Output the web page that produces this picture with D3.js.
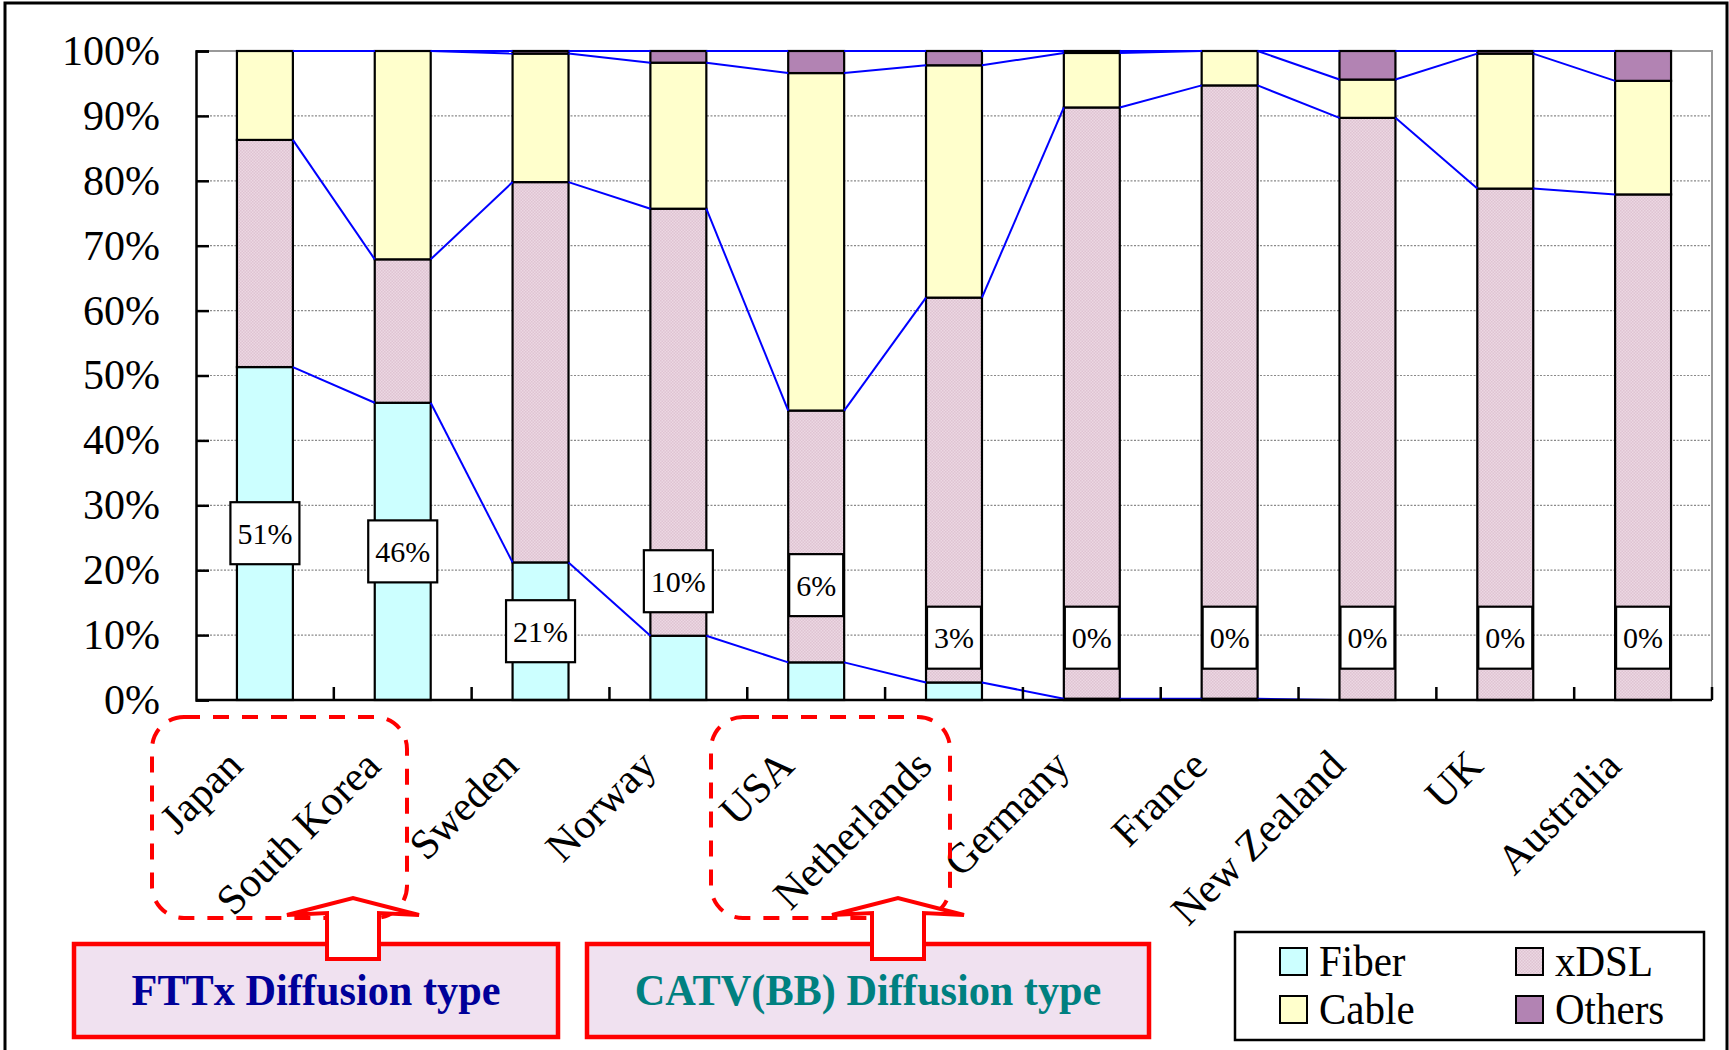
<!DOCTYPE html>
<html>
<head>
<meta charset="utf-8">
<script src="https://cdn.jsdelivr.net/npm/d3@7"></script>
<style>
  body { margin: 0; background: #fff; }
  svg { display: block; font-family: "Liberation Serif", "Times New Roman", serif; }
</style>
</head>
<body>
<svg id="chart" width="1729" height="1050"></svg>
<script>
// broadband share by access type, % of subscribers
var countries = ["Japan", "South Korea", "Sweden", "Norway", "USA", "Netherlands",
                 "Germany", "France", "New Zealand", "UK", "Australia"];
var fiber  = [51.3, 45.8, 21.2,  9.9,  5.8,  2.7,  0.2,  0.2,  0.0,  0.0,  0.0];
var xdsl   = [35.0, 22.1, 58.6, 65.8, 38.8, 59.3, 91.1, 94.5, 89.7, 78.8, 77.9];
var cable  = [13.7, 32.1, 19.8, 22.5, 52.0, 35.8,  8.4,  5.3,  5.9, 20.8, 17.5];
var others = [ 0.0,  0.0,  0.4,  1.8,  3.4,  2.2,  0.3,  0.0,  4.4,  0.4,  4.6];
// where the fiber % boxes sit (value units)
var labelAt = [25.7, 22.9, 10.6, 18.3, 17.7, 9.6, 9.6, 9.6, 9.6, 9.6, 9.6];
var yTicks = [0, 10, 20, 30, 40, 50, 60, 70, 80, 90, 100];
var seriesNames = ["Fiber", "xDSL", "Cable", "Others"];

var colors = {Fiber: "#ccffff", xDSL: "url(#dsl)", Cable: "#ffffcc", Others: "#b283b3"};

var plotL = 196, plotR = 1712, plotT = 51, plotB = 700;

var svg = d3.select("#chart");

// pink hatch for xDSL
var pat = svg.append("defs").append("pattern")
    .attr("id", "dsl").attr("width", 3).attr("height", 3)
    .attr("patternUnits", "userSpaceOnUse");
pat.append("rect").attr("width", 3).attr("height", 3).attr("fill", "#ecd8e3");
pat.append("rect").attr("width", 1.5).attr("height", 1.5).attr("fill", "#dfc3d2");
pat.append("rect").attr("x", 1.5).attr("y", 1.5).attr("width", 1.5).attr("height", 1.5).attr("fill", "#dfc3d2");

// outer frame
svg.append("rect").attr("x", 5).attr("y", 3).attr("width", 1722).attr("height", 1070)
    .attr("fill", "none").attr("stroke", "#000").attr("stroke-width", 3);

var x = d3.scaleBand().domain(countries).range([plotL, plotR])
    .paddingInner(0.594).paddingOuter(0.297);
var y = d3.scaleLinear().domain([0, 100]).range([plotB, plotT]);
var step = x.step();
var bw = x.bandwidth();

var rows = countries.map(function (c, i) {
  return {country: c, Fiber: fiber[i], xDSL: xdsl[i], Cable: cable[i], Others: others[i]};
});
var stacked = d3.stack().keys(seriesNames)(rows);

// grid
svg.append("g").selectAll("line")
    .data(yTicks.slice(1, -1))
    .enter().append("line")
    .attr("x1", plotL).attr("x2", plotR)
    .attr("y1", function (d) { return y(d); }).attr("y2", function (d) { return y(d); })
    .attr("stroke", "#8a8a8a").attr("stroke-width", 1.2).attr("stroke-dasharray", "2,1.5");

// gray plot border top/right
svg.append("path")
    .attr("d", "M" + plotL + "," + y(100) + "H" + plotR + "V" + plotB)
    .attr("fill", "none").attr("stroke", "#999").attr("stroke-width", 2);

// bars
svg.append("g").selectAll("g")
    .data(stacked)
    .enter().append("g")
    .attr("fill", function (s) { return colors[s.key]; })
    .selectAll("rect")
    .data(function (s) { return s; })
    .enter().append("rect")
    .attr("x", function (d) { return x(d.data.country); })
    .attr("width", bw)
    .attr("y", function (d) { return y(d[1]); })
    .attr("height", function (d) { return y(d[0]) - y(d[1]); })
    .attr("stroke", "#000").attr("stroke-width", 2.2);

// series lines between neighbouring bars
stacked.forEach(function (s) {
  for (var i = 0; i < s.length - 1; i++) {
    svg.append("line")
        .attr("x1", x(countries[i]) + bw).attr("y1", y(s[i][1]))
        .attr("x2", x(countries[i + 1])).attr("y2", y(s[i + 1][1]))
        .attr("stroke", "#0000ff").attr("stroke-width", 2);
  }
});

// y axis
var yAxis = svg.append("g")
    .attr("transform", "translate(" + plotL + ",0)")
    .call(d3.axisLeft(y).tickValues(yTicks).tickSize(-13).tickPadding(36)
        .tickFormat(function (d) { return d + "%"; }));
yAxis.select(".domain").attr("stroke", "#000").attr("stroke-width", 2.5);
yAxis.selectAll(".tick line").attr("stroke", "#000").attr("stroke-width", 2.5);
yAxis.selectAll("text").attr("font-size", 42).attr("fill", "#000")
    .attr("font-family", "Liberation Serif");

// x axis line + inside ticks at category borders
svg.append("line").attr("x1", plotL).attr("x2", plotR)
    .attr("y1", plotB).attr("y2", plotB)
    .attr("stroke", "#000").attr("stroke-width", 2.5);
svg.append("g").selectAll("line")
    .data(countries)
    .enter().append("line")
    .attr("x1", function (d) { return x(d) + bw + (step - bw) / 2; })
    .attr("x2", function (d) { return x(d) + bw + (step - bw) / 2; })
    .attr("y1", plotB).attr("y2", plotB - 13)
    .attr("stroke", "#000").attr("stroke-width", 2.5);

// category labels
svg.append("g").selectAll("text")
    .data(countries)
    .enter().append("text")
    .attr("transform", function (d) {
      return "translate(" + (x(d) + bw / 2 - 20) + "," + (plotB + 68) + ") rotate(-45)";
    })
    .attr("text-anchor", "end")
    .attr("font-size", 42)
    .text(function (d) { return d; });

// fiber % boxes
var lbl = svg.append("g").selectAll("g")
    .data(countries)
    .enter().append("g")
    .attr("transform", function (d, i) {
      return "translate(" + (x(d) + bw / 2) + "," + y(labelAt[i]) + ")";
    });
lbl.append("text")
    .attr("text-anchor", "middle").attr("dy", "0.35em")
    .attr("font-size", 30)
    .text(function (d, i) { return Math.round(fiber[i]) + "%"; });
lbl.each(function () {
  var g = d3.select(this), b = g.select("text").node().getBBox();
  g.insert("rect", "text")
      .attr("x", b.x - 7).attr("width", b.width + 14)
      .attr("y", -31).attr("height", 62)
      .attr("fill", "#fff").attr("stroke", "#000").attr("stroke-width", 2.2);
});

// annotations
function callout(box, frame, arrowX, label, color) {
  svg.append("rect")
      .attr("x", frame[0]).attr("y", 717).attr("width", frame[1] - frame[0]).attr("height", 201)
      .attr("rx", 32).attr("fill", "none")
      .attr("stroke", "#ff0000").attr("stroke-width", 4).attr("stroke-dasharray", "16,13");
  svg.append("rect")
      .attr("x", box[0]).attr("y", 944).attr("width", box[1] - box[0]).attr("height", 93)
      .attr("fill", "#f0e1f0").attr("stroke", "#ff0000").attr("stroke-width", 4.5);
  var a = arrowX;
  var pts = [[a - 26, 959], [a - 26, 913], [a - 66, 915], [a, 898], [a + 66, 915],
             [a + 26, 913], [a + 26, 959]];
  svg.append("polygon")
      .attr("points", pts.map(function (p) { return p.join(","); }).join(" "))
      .attr("fill", "#fff").attr("stroke", "#ff0000").attr("stroke-width", 4)
      .attr("stroke-linejoin", "miter");
  svg.append("text")
      .attr("transform", "translate(" + (box[0] + box[1]) / 2 + ",1005) scale(0.94,1)")
      .attr("text-anchor", "middle")
      .attr("font-size", 45).attr("font-weight", "bold")
      .attr("fill", color)
      .text(label);
}
callout([74, 558], [152, 407], 353, "FTTx Diffusion type", "#000099");
callout([587, 1149], [711, 950], 898, "CATV(BB) Diffusion type", "#008080");

// legend
var legend = svg.append("g");
legend.append("rect").attr("x", 1235).attr("y", 932).attr("width", 469).attr("height", 108)
    .attr("fill", "#fff").attr("stroke", "#000").attr("stroke-width", 2.5);
var legPos = [[1280, 948], [1280, 996], [1516, 948], [1516, 996]];
var legOrder = ["Fiber", "Cable", "xDSL", "Others"];
legOrder.forEach(function (k, i) {
  var p = legPos[i];
  legend.append("rect").attr("x", p[0]).attr("y", p[1]).attr("width", 27).attr("height", 27)
      .attr("fill", colors[k]).attr("stroke", "#000").attr("stroke-width", 2);
  legend.append("text").attr("transform", "translate(" + (p[0] + 39) + "," + (p[1] + 28) + ") scale(1,1.08)")
      .attr("font-size", 41).text(k);
});
</script>
</body>
</html>
